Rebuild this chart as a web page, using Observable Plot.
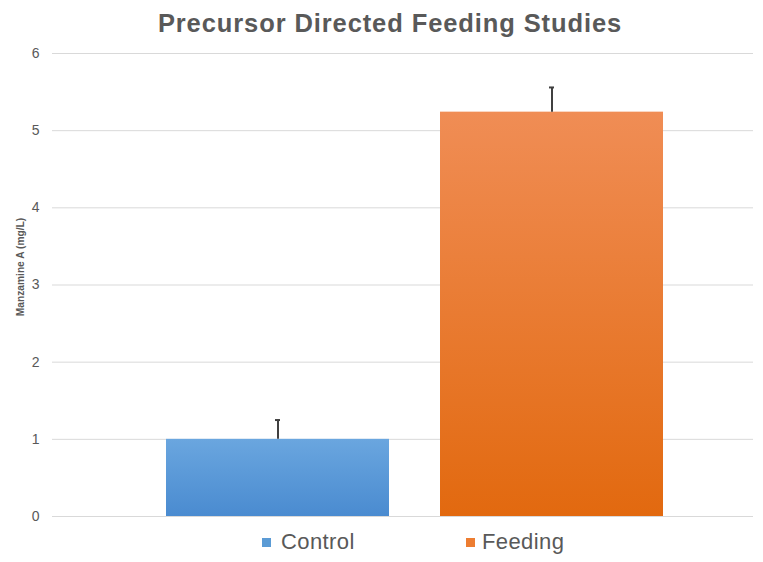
<!DOCTYPE html>
<html>
<head>
<meta charset="utf-8">
<script src="https://cdn.jsdelivr.net/npm/d3@7"></script>
<script src="https://cdn.jsdelivr.net/npm/@observablehq/plot@0.6"></script>
<style>
  html, body { margin: 0; padding: 0; background: #fff; }
  body { width: 763px; height: 562px; overflow: hidden; font-family: "Liberation Sans", Arial, sans-serif; }
  #title { height: 45px; box-sizing: border-box; padding-top: 9.7px; padding-left: 17px; text-align: center;
           font-size: 25.5px; line-height: 26px; font-weight: bold; color: #595959; letter-spacing: 0.9px; }
  #legend { position: relative; height: 37px; }
  #legend .sw { position: absolute; top: 13px; width: 9px; height: 9px; }
  #legend .lb { position: absolute; top: 6.4px; font-size: 22px; line-height: 22px; color: #595959; letter-spacing: 0.4px; }
  svg { display: block; }
</style>
</head>
<body>
<div id="title"></div>
<div id="chart"></div>
<div id="legend"></div>
<script>
const title = "Precursor Directed Feeding Studies";
const yLabel = "Manzamine A (mg/L)";
const categories = ["Control", "Feeding"];
const values = [1.0, 5.24];
const errors = [0.25, 0.32];
const yTicks = [0, 1, 2, 3, 4, 5, 6];
const swatchColors = ["#5b9bd5", "#ed7d31"];
const gradientIds = ["gradControl", "gradFeeding"];
const gradientStops = [["#6aa6df", "#4a8bd0"], ["#f08d55", "#e2690f"]];

const data = categories.map((c, i) => ({category: c, value: values[i], err: errors[i], top: values[i] + errors[i]}));

document.getElementById("title").textContent = title;

const plot = Plot.plot({
  width: 763,
  height: 480,
  marginTop: 8,
  marginBottom: 9,
  marginLeft: 52,
  marginRight: 10,
  style: {color: "#595959", fontFamily: "'Liberation Sans', Arial, sans-serif", background: "#fff"},
  x: {domain: categories, range: [165, 664], paddingInner: 0.185, paddingOuter: 0, axis: null},
  y: {domain: [0, 6], label: null},
  color: {domain: categories, range: gradientIds.map(id => `url(#${id})`)},
  marks: [
    Plot.ruleY(yTicks, {stroke: "#d9d9d9", strokeWidth: 1}),
    Plot.axisY(yTicks, {tickSize: 0, tickPadding: 13, fontSize: 14, label: null, tickFormat: d => String(d)}),
    Plot.barY(data, {x: "category", y: "value", fill: "category"}),
    Plot.ruleX(data, {x: "category", y1: "value", y2: "top", stroke: "#404040", strokeWidth: 2}),
    Plot.tickY(data, {x: "category", y: "top", stroke: "#404040", strokeWidth: 2, insetLeft: 109, insetRight: 109}),
    Plot.text([yLabel], {frameAnchor: "left", textAnchor: "middle", rotate: -90, dx: -32, dy: -18, fontWeight: "bold", fontSize: 10.2, fill: "#595959"})
  ]
});

const defs = d3.select(plot).insert("defs", ":first-child");
gradientIds.forEach((id, i) => {
  const g = defs.append("linearGradient").attr("id", id).attr("x1", 0).attr("y1", 0).attr("x2", 0).attr("y2", 1);
  g.append("stop").attr("offset", "0%").attr("stop-color", gradientStops[i][0]);
  g.append("stop").attr("offset", "100%").attr("stop-color", gradientStops[i][1]);
});

document.getElementById("chart").appendChild(plot);

const legend = document.getElementById("legend");
const swatchX = [262, 466];
const labelX = [281, 482];
categories.forEach((c, i) => {
  const sw = document.createElement("div");
  sw.className = "sw";
  sw.style.left = swatchX[i] + "px";
  sw.style.background = swatchColors[i];
  legend.appendChild(sw);
  const lb = document.createElement("div");
  lb.className = "lb";
  lb.style.left = labelX[i] + "px";
  lb.textContent = c;
  legend.appendChild(lb);
});
</script>
</body>
</html>
